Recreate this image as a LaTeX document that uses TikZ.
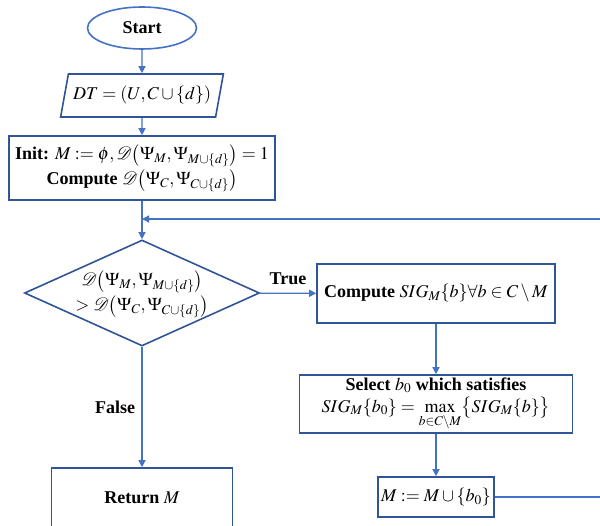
\documentclass[tikz,border=0pt]{standalone}
\usepackage{mathptmx}
\usepackage{fontspec}
\setmainfont{Liberation Serif}
\usetikzlibrary{shapes.geometric,arrows.meta}

\definecolor{boxblue}{HTML}{2F5597}
\definecolor{lineblue}{HTML}{4472C4}

\begin{document}
\begin{tikzpicture}[x=1pt,y=-1pt,font=\fontsize{18}{25}\selectfont\bfseries]
      \useasboundingbox (0,0) rectangle (600,526);

      \begin{scope}[every node/.style={draw=boxblue, line width=1.6pt, align=center, inner sep=0pt}]
        \node[ellipse, draw=lineblue, minimum width=109pt, minimum height=42pt] (1) at (142,28) {Start};
        \node[trapezium, trapezium left angle=68, trapezium right angle=112, trapezium stretches=true,
              minimum width=163pt, minimum height=43pt] (2) at (142,95.5) {$DT=(U,C\cup\{d\})$};
        \node[minimum width=266pt, minimum height=64pt] (3) at (142,168)
          {Init: $M\mathrel{:=}\phi,\mathcal{D}\bigl(\Psi_M,\Psi_{M\cup\{d\}}\bigr)=1$\\
           Compute $\mathcal{D}\bigl(\Psi_C,\Psi_{C\cup\{d\}}\bigr)$};
        \node[diamond, minimum width=235pt, minimum height=106pt] (4) at (142,293) {};
        \node[minimum width=238pt, minimum height=59pt] (5) at (436,293.5)
          {Compute $SIG_M\{b\}\forall b\in C\setminus M$};
        \node[minimum width=273pt, minimum height=58pt, font=\fontsize{18}{22}\selectfont\bfseries] (6) at (436,404)
          {Select $b_0$ which satisfies\\
           $SIG_M\{b_0\}=\max\limits_{b\in C\setminus M}\bigl\{SIG_M\{b\}\bigr\}$};
        \node[minimum width=116pt, minimum height=40pt] (7) at (436,497) {$M\mathrel{:=}M\cup\{b_0\}$};
        \node[minimum width=181pt, minimum height=60pt] (8) at (142,498) {Return $M$};
      \end{scope}

      \node[align=center, inner sep=0pt] (4t) at (142,294)
        {$\mathcal{D}\bigl(\Psi_M,\Psi_{M\cup\{d\}}\bigr)$\\
         $>\mathcal{D}\bigl(\Psi_C,\Psi_{C\cup\{d\}}\bigr)$};
      \coordinate (9) at (142,219);

      \begin{scope}[every edge/.style={draw=lineblue, line width=1.3pt, -{Triangle[length=7pt,width=7pt]}}]
        \path (1) edge (2);
        \path (2) edge (3);
        \path (3) edge (4);
        \path (4) edge node[above=5pt] {True} (5);
        \path (4) edge node[left=3pt] {False} (8);
        \path (5) edge (6);
        \path (6) edge (7);
        \path (7.east) edge[to path={-- ++(120,0) |- (\tikztotarget)}] (9);
      \end{scope}

    \end{tikzpicture}
\end{document}
